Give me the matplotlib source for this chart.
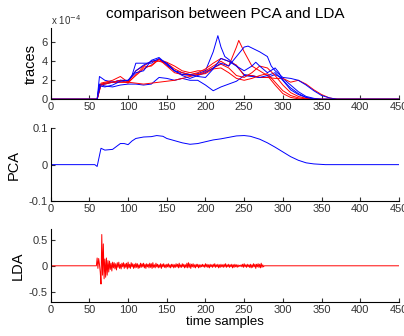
import matplotlib
matplotlib.use('Agg')
import matplotlib.pyplot as plt
import numpy as np

plt.rcParams['font.family'] = ['Liberation Sans', 'DejaVu Sans']

# traces (units of 1e-4), sample index -> value
b1_x = [0, 60, 63, 70, 80, 90, 100, 105, 110, 120, 130, 140, 150, 160, 170, 180, 190, 200, 205, 210, 216, 220, 225, 230, 240, 250, 260, 270, 280, 290, 300, 310, 320, 330, 340, 350, 450]
b1_y = [0, 0, 2.4, 2.0, 1.8, 2.0, 1.9, 2.5, 3.8, 3.8, 3.8, 4.3, 3.6, 3.0, 2.8, 2.6, 2.7, 3.0, 4.0, 5.0, 6.7, 5.5, 4.5, 4.2, 3.5, 2.6, 2.5, 2.3, 2.3, 2.6, 2.2, 1.5, 0.8, 0.3, 0.1, 0, 0]
b2_x = [0, 60, 63, 70, 80, 90, 100, 110, 120, 130, 140, 150, 160, 170, 180, 190, 200, 210, 220, 230, 240, 250, 260, 270, 280, 290, 300, 310, 320, 330, 340, 450]
b2_y = [0, 0, 1.6, 1.4, 1.3, 1.5, 1.6, 1.6, 1.5, 1.6, 2.3, 2.2, 2.0, 2.2, 2.0, 2.0, 1.5, 0.9, 1.3, 1.6, 1.9, 2.5, 2.4, 2.3, 2.5, 2.8, 2.0, 1.2, 0.6, 0.2, 0, 0]
b3_x = [0, 60, 63, 70, 80, 90, 100, 110, 120, 130, 140, 150, 160, 170, 180, 190, 200, 210, 220, 230, 240, 250, 255, 260, 270, 280, 285, 290, 300, 310, 320, 330, 340, 350, 360, 370, 450]
b3_y = [0, 0, 1.5, 1.6, 1.8, 2.0, 2.0, 3.0, 3.6, 4.0, 4.2, 3.8, 3.0, 2.5, 2.2, 2.5, 2.8, 3.3, 3.8, 3.5, 4.5, 5.5, 5.6, 5.4, 5.0, 4.5, 3.5, 3.0, 2.3, 2.2, 2.0, 1.5, 0.9, 0.4, 0.15, 0, 0]
b4_x = [0, 60, 64, 70, 80, 90, 100, 110, 120, 130, 140, 150, 160, 170, 180, 190, 200, 210, 220, 230, 240, 250, 260, 265, 270, 280, 290, 295, 300, 310, 320, 330, 340, 350, 450]
b4_y = [0, 0, 1.4, 1.3, 1.5, 1.9, 2.0, 2.8, 3.0, 4.1, 4.4, 3.7, 3.0, 2.6, 2.6, 2.4, 2.3, 3.2, 4.3, 4.0, 3.5, 3.0, 3.5, 3.9, 3.5, 2.8, 3.3, 2.8, 2.0, 1.0, 0.5, 0.2, 0.05, 0, 0]
r1_x = [0, 60, 64, 70, 80, 90, 100, 110, 120, 130, 140, 150, 160, 170, 180, 190, 200, 210, 220, 230, 240, 243, 250, 260, 270, 280, 290, 300, 310, 320, 330, 450]
r1_y = [0, 0, 1.5, 1.7, 1.8, 1.8, 1.8, 2.5, 3.2, 3.6, 4.2, 3.9, 3.5, 3.0, 2.8, 3.0, 3.0, 3.5, 4.0, 3.5, 5.5, 6.2, 5.0, 3.5, 3.0, 2.5, 1.5, 0.6, 0.2, 0.05, 0, 0]
r2_x = [0, 60, 65, 70, 80, 90, 100, 110, 120, 130, 140, 150, 160, 170, 180, 190, 200, 210, 220, 230, 240, 250, 260, 270, 280, 290, 300, 310, 320, 330, 340, 350, 360, 370, 450]
r2_y = [0, 0, 1.7, 1.8, 2.0, 2.4, 1.8, 3.0, 3.5, 4.0, 4.0, 3.8, 3.2, 2.8, 2.6, 2.8, 3.2, 3.8, 4.3, 4.0, 3.6, 2.5, 2.5, 2.3, 2.3, 2.2, 2.2, 1.8, 2.0, 1.6, 1.0, 0.5, 0.15, 0, 0]
r3_x = [0, 60, 65, 70, 80, 90, 100, 110, 120, 130, 140, 150, 160, 170, 180, 190, 200, 210, 220, 230, 240, 250, 260, 270, 280, 290, 300, 310, 320, 330, 340, 450]
r3_y = [0, 0, 1.6, 1.7, 1.8, 1.8, 1.8, 1.7, 1.6, 1.7, 1.8, 1.9, 2.0, 2.2, 2.4, 2.6, 2.9, 3.3, 3.7, 3.3, 2.5, 2.3, 2.8, 3.5, 3.3, 2.5, 1.5, 0.7, 0.3, 0.1, 0, 0]
r4_x = [0, 60, 65, 70, 80, 90, 100, 110, 120, 130, 140, 150, 160, 170, 180, 190, 200, 210, 220, 230, 240, 250, 260, 270, 280, 290, 300, 310, 320, 330, 340, 450]
r4_y = [0, 0, 1.5, 1.6, 1.8, 2.0, 1.7, 2.6, 3.4, 3.5, 4.2, 3.5, 2.8, 2.6, 2.5, 2.6, 2.7, 3.2, 3.3, 2.8, 2.2, 2.0, 2.2, 2.5, 2.7, 1.8, 0.9, 0.4, 0.15, 0.05, 0, 0]

# PCA projection
pca_x = [0, 57, 60, 65, 70, 80, 85, 90, 95, 100, 105, 110, 120, 130, 137, 145, 150, 160, 170, 180, 190, 200, 210, 220, 230, 240, 250, 258, 270, 280, 290, 300, 310, 320, 330, 340, 355, 450]
pca_y = [0, 0, -0.005, 0.045, 0.04, 0.042, 0.05, 0.058, 0.058, 0.055, 0.065, 0.072, 0.076, 0.077, 0.08, 0.078, 0.072, 0.066, 0.06, 0.056, 0.058, 0.063, 0.068, 0.071, 0.075, 0.079, 0.08, 0.078, 0.07, 0.06, 0.048, 0.035, 0.022, 0.012, 0.005, 0.002, 0, 0]

# LDA projection, samples 58..277
lda_start = 58
lda_y = [0.0, 0.0, 0.15, -0.05, 0.14, 0.03, -0.12, -0.35, 0.6, -0.18,
         0.42, -0.25, 0.13, -0.22, 0.15, -0.18, 0.1, -0.12, 0.09, -0.07,
         0.05, -0.1, 0.07, -0.04, 0.06, -0.06, 0.04, -0.08, 0.06, -0.03,
         0.07, -0.05, 0.03, -0.06, 0.05, -0.02, 0.06, -0.05, 0.04, -0.03,
         0.05, -0.06, 0.07, -0.04, 0.03, -0.05, 0.06, -0.02, 0.04, -0.05,
         0.03, -0.04, 0.05, -0.03, 0.04, -0.05, 0.02, -0.04, 0.05, -0.03,
         0.04, -0.02, 0.05, -0.04, 0.03, -0.05, 0.04, -0.02, 0.03, -0.04,
         0.05, -0.03, 0.04, -0.05, 0.06, -0.03, 0.02, -0.04, 0.05, -0.02,
         0.03, -0.04, 0.02, -0.03, 0.04, -0.05, 0.03, -0.02, 0.04, -0.03,
         0.02, -0.04, 0.03, -0.02, 0.04, -0.03, 0.02, -0.04, 0.03, -0.02,
         0.03, -0.04, 0.02, -0.03, 0.04, -0.02, 0.03, -0.04, 0.05, -0.03,
         0.02, -0.03, 0.04, -0.02, 0.03, -0.04, 0.02, -0.03, 0.05, -0.04,
         0.06, -0.03, 0.04, -0.05, 0.03, -0.02, 0.04, -0.03, 0.02, -0.04,
         0.03, -0.02, 0.03, -0.04, 0.02, -0.03, 0.02, -0.02, 0.03, -0.02,
         0.02, -0.03, 0.04, -0.02, 0.03, -0.03, 0.02, -0.04, 0.03, -0.02,
         0.02, -0.03, 0.03, -0.02, 0.04, -0.03, 0.02, -0.02, 0.03, -0.04,
         0.02, -0.03, 0.03, -0.02, 0.02, -0.03, 0.03, -0.02, 0.04, -0.03,
         0.02, -0.02, 0.03, -0.03, 0.02, -0.02, 0.03, -0.04, 0.02, -0.03,
         0.03, -0.02, 0.02, -0.03, 0.02, -0.02, 0.01, -0.01, 0.02, -0.02,
         0.03, -0.03, 0.04, -0.02, 0.02, -0.03, 0.03, -0.02, 0.02, -0.03,
         0.03, -0.04, 0.02, -0.03, 0.04, -0.02, 0.03, -0.05, 0.03, -0.02,
         0.04, -0.03, 0.03, -0.04, 0.05, -0.03, 0.02, -0.02, 0.0, 0.0]
lda_x = np.concatenate(([0], np.arange(lda_start, lda_start + len(lda_y)), [450]))
lda_y = np.concatenate(([0], lda_y, [0]))

xticks = [0, 50, 100, 150, 200, 250, 300, 350, 400, 450]

fig = plt.figure(figsize=(4.04, 3.36), dpi=100)
ax1 = fig.add_axes([0.1255, 0.7045, 0.862, 0.212])
ax2 = fig.add_axes([0.1255, 0.4018, 0.862, 0.2164])
ax3 = fig.add_axes([0.1255, 0.1003, 0.862, 0.2173])

lw = 0.7
ax1.plot(r1_x, r1_y, color='r', lw=lw)
ax1.plot(b1_x, b1_y, color='b', lw=lw)
ax1.plot(r2_x, r2_y, color='r', lw=lw)
ax1.plot(b2_x, b2_y, color='b', lw=lw)
ax1.plot(r3_x, r3_y, color='r', lw=lw)
ax1.plot(b3_x, b3_y, color='b', lw=lw)
ax1.plot(r4_x, r4_y, color='r', lw=lw)
ax1.plot(b4_x, b4_y, color='b', lw=lw)
ax1.set_ylim(0, 7.5)
ax1.set_yticks([0, 2, 4, 6])
ax1.set_ylabel('traces', fontsize=10.5, labelpad=3)
ax1.set_title('comparison between PCA and LDA', fontsize=11, pad=7)
ax1.text(0, 1.04, r'x 10$^{-4}$', transform=ax1.transAxes, fontsize=7, color='#333333')

ax2.plot(pca_x, pca_y, color='b', lw=lw)
ax2.set_ylim(-0.1, 0.1)
ax2.set_yticks([-0.1, 0, 0.1])
ax2.set_yticklabels(['-0.1', '0', '0.1'])
ax2.set_ylabel('PCA', fontsize=10.5, labelpad=6)

ax3.plot(lda_x, lda_y, color='r', lw=lw)
ax3.set_ylim(-0.7, 0.7)
ax3.set_yticks([-0.5, 0, 0.5])
ax3.set_yticklabels(['-0.5', '0', '0.5'])
ax3.set_ylabel('LDA', fontsize=10.5, labelpad=3)
ax3.set_xlabel('time samples', fontsize=9.5, labelpad=1)

for ax in (ax1, ax2, ax3):
    ax.set_xlim(0, 450)
    ax.set_xticks(xticks)
    ax.spines['top'].set_visible(False)
    ax.spines['right'].set_visible(False)
    ax.spines['left'].set_linewidth(0.8)
    ax.spines['bottom'].set_linewidth(0.8)
    ax.tick_params(direction='in', length=3, width=0.8, labelsize=8, pad=2, colors='#333333')

plt.savefig('out.png', dpi=100)
